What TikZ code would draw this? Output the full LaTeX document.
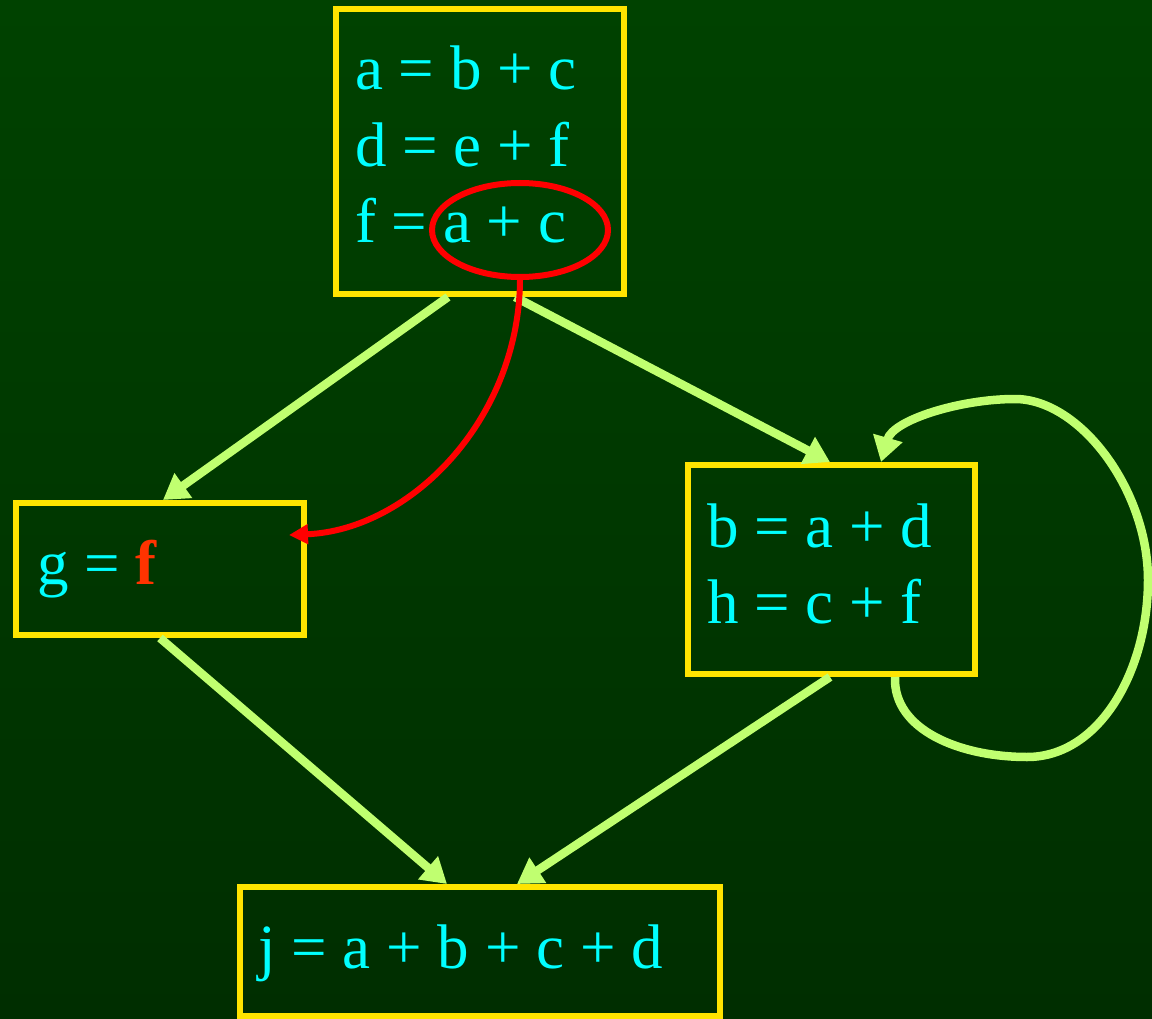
\documentclass[tikz,border=0pt]{standalone}
\usepackage{fontspec}
\setmainfont{Liberation Serif}
\usetikzlibrary{arrows.meta,shapes.geometric}
\definecolor{bgtop}{RGB}{0,66,0}
\definecolor{bgbot}{RGB}{0,46,0}
\definecolor{boxyellow}{RGB}{255,228,0}
\definecolor{edgegreen}{RGB}{192,255,112}
\definecolor{txtcyan}{RGB}{0,255,255}
\definecolor{fred}{RGB}{255,51,0}
\tikzset{
  block/.style={draw=boxyellow,line width=6pt,rectangle,inner sep=0pt},
  code/.style={anchor=base west,inner sep=0pt,text=txtcyan,font=\fontsize{63}{76}\selectfont},
  garrow/.style={draw=edgegreen,line width=8.5pt,-{Triangle[length=25pt,width=29pt]}},
  rarrow/.style={draw=red,line width=6pt,-{Triangle[length=19pt,width=19pt]}}
}
\begin{document}
\begin{tikzpicture}[x=1pt,y=-1pt]
\shade[top color=bgtop,bottom color=bgbot] (0,0) rectangle (1152,1019);
\useasboundingbox (0,0) rectangle (1152,1019);
% boxes
\node[block,minimum width=288pt,minimum height=285pt] (top) at (480,151.5) {};
\node[block,minimum width=288pt,minimum height=132pt] (g) at (160,569) {};
\node[block,minimum width=287pt,minimum height=209pt] (b) at (831.5,569.5) {};
\node[block,minimum width=480pt,minimum height=129pt] (j) at (480,951.5) {};
% texts
\node[code] (t1) at (355,90) {a = b + c};
\node[code] (t2) at (355,167) {d = e + f};
\node[code] (t3) at (355,243) {f = a + c};
\node[code] (gt) at (37,584) {g = {\color{fred}\bfseries f}};
\node[code] (b1) at (707,547) {b = a + d};
\node[code] (b2) at (707,623) {h = c + f};
\node[code] (jt) at (258,968) {j = a + b + c + d};
% red ellipse
\node[ellipse,draw=red,line width=6pt,minimum width=176pt,minimum height=94pt,inner sep=0pt] (ell) at (520,230) {};
% green edges
\draw[garrow] (top.south -| 448,0) -- (g.north -| 163,0);
\draw[garrow] (top.south -| 515,0) -- (b.north -| 830,0);
\draw[garrow] (g.south -| 160,0) -- (j.north -| 447,0);
\draw[garrow] (b.south -| 830,0) -- (j.north -| 517,0);
\draw[garrow] (b.south -| 895,0) .. controls (893,730) and (960,757) .. (1027,757)
  .. controls (1100,757) and (1148,670) .. (1148,580)
  .. controls (1148,490) and (1080,399) .. (1015,399)
  .. controls (960,399) and (893,420) .. (b.north -| 881,0);
% red edge
\coordinate (rtip) at (289,535);
\draw[rarrow] (ell.south) .. controls (519,420) and (410,530) .. (rtip);
\end{tikzpicture}
\end{document}
